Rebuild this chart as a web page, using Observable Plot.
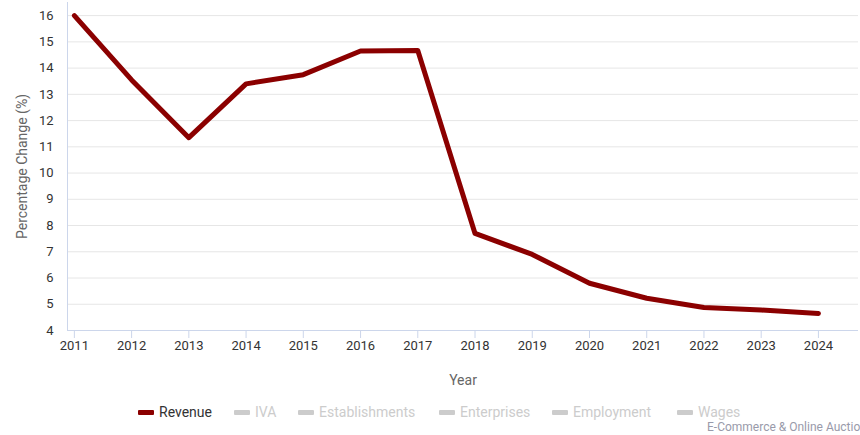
<!DOCTYPE html>
<html>
<head>
<meta charset="utf-8">
<script src="https://cdn.jsdelivr.net/npm/d3@7"></script>
<script src="https://cdn.jsdelivr.net/npm/@observablehq/plot@0.6"></script>
<style>
  html, body { margin: 0; padding: 0; background: #fff; }
  #wrap { position: relative; width: 860px; height: 435px; overflow: hidden; font-family: Roboto, sans-serif; }
  #legend { position: absolute; top: 404px; left: 0; width: 860px; height: 20px; }
  .item { position: absolute; top: 0; display: flex; align-items: center; font-size: 14px; white-space: nowrap; }
  .sym { width: 16px; height: 5px; border-radius: 1px; margin-right: 5px; }
  #caption { position: absolute; left: 707px; top: 420px; font-size: 12px; color: #999aaa; white-space: nowrap; }
</style>
</head>
<body>
<div id="wrap">
  <div id="chart"></div>
  <div id="legend"></div>
  <div id="caption"></div>
</div>
<script>
const years = [2011, 2012, 2013, 2014, 2015, 2016, 2017, 2018, 2019, 2020, 2021, 2022, 2023, 2024];
const revenue = [16.0, 13.55, 11.35, 13.4, 13.75, 14.65, 14.67, 7.7, 6.9, 5.8, 5.23, 4.88, 4.78, 4.65];
const yTicks = [4, 5, 6, 7, 8, 9, 10, 11, 12, 13, 14, 15, 16];
const legendNames = ["Revenue", "IVA", "Establishments", "Enterprises", "Employment", "Wages"];
const legendLefts = [138, 234, 298, 439, 552, 677];
const captionText = "E-Commerce & Online Auctions";

const data = years.map((y, i) => ({year: y, value: revenue[i]}));

const chart = Plot.plot({
  width: 860,
  height: 395,
  marginTop: 2,
  marginBottom: 65,
  marginLeft: 67,
  marginRight: 2,
  style: {fontFamily: "Roboto, sans-serif", fontSize: "13px", color: "#333", background: "#fff"},
  x: {domain: [2010.88, 2024.7], ticks: years, tickFormat: d => String(d), label: null},
  y: {domain: [4, 16.5], ticks: yTicks, label: null},
  marks: [
    Plot.gridY(yTicks, {stroke: "#e6e6e6", strokeOpacity: 1, strokeWidth: 1}),
    Plot.ruleX([2010.88], {stroke: "#ccd6eb", strokeWidth: 1}),
    Plot.ruleY([4], {stroke: "#ccd6eb", strokeWidth: 1}),
    Plot.axisY(yTicks, {tickSize: 0, tickPadding: 14, fill: "#333", fontSize: 13, label: null}),
    Plot.axisY({ticks: [], tickSize: 0, label: "Percentage Change (%)", labelAnchor: "center", labelArrow: "none", labelOffset: 50, fill: "#666", fontSize: 14}),
    Plot.axisX(years, {tickSize: 8, stroke: "#ccd6eb", tickPadding: 2, fill: "#333", fontSize: 13, label: null, tickFormat: d => String(d)}),
    Plot.axisX({ticks: [], tickSize: 0, label: "Year", labelAnchor: "center", labelArrow: "none", labelOffset: 54, fill: "#666", fontSize: 14}),
    Plot.line(data, {x: "year", y: "value", stroke: "#8b0000", strokeWidth: 5, strokeLinejoin: "round", strokeLinecap: "round"})
  ]
});
document.getElementById("chart").appendChild(chart);

const legend = document.getElementById("legend");
legendNames.forEach((name, i) => {
  const item = document.createElement("div");
  item.className = "item";
  item.style.left = legendLefts[i] + "px";
  const sym = document.createElement("div");
  sym.className = "sym";
  sym.style.background = i === 0 ? "#8b0000" : "#cccccc";
  const txt = document.createElement("span");
  txt.textContent = name;
  txt.style.color = i === 0 ? "#333" : "#cccccc";
  item.appendChild(sym);
  item.appendChild(txt);
  legend.appendChild(item);
});
document.getElementById("caption").textContent = captionText;
</script>
</body>
</html>
